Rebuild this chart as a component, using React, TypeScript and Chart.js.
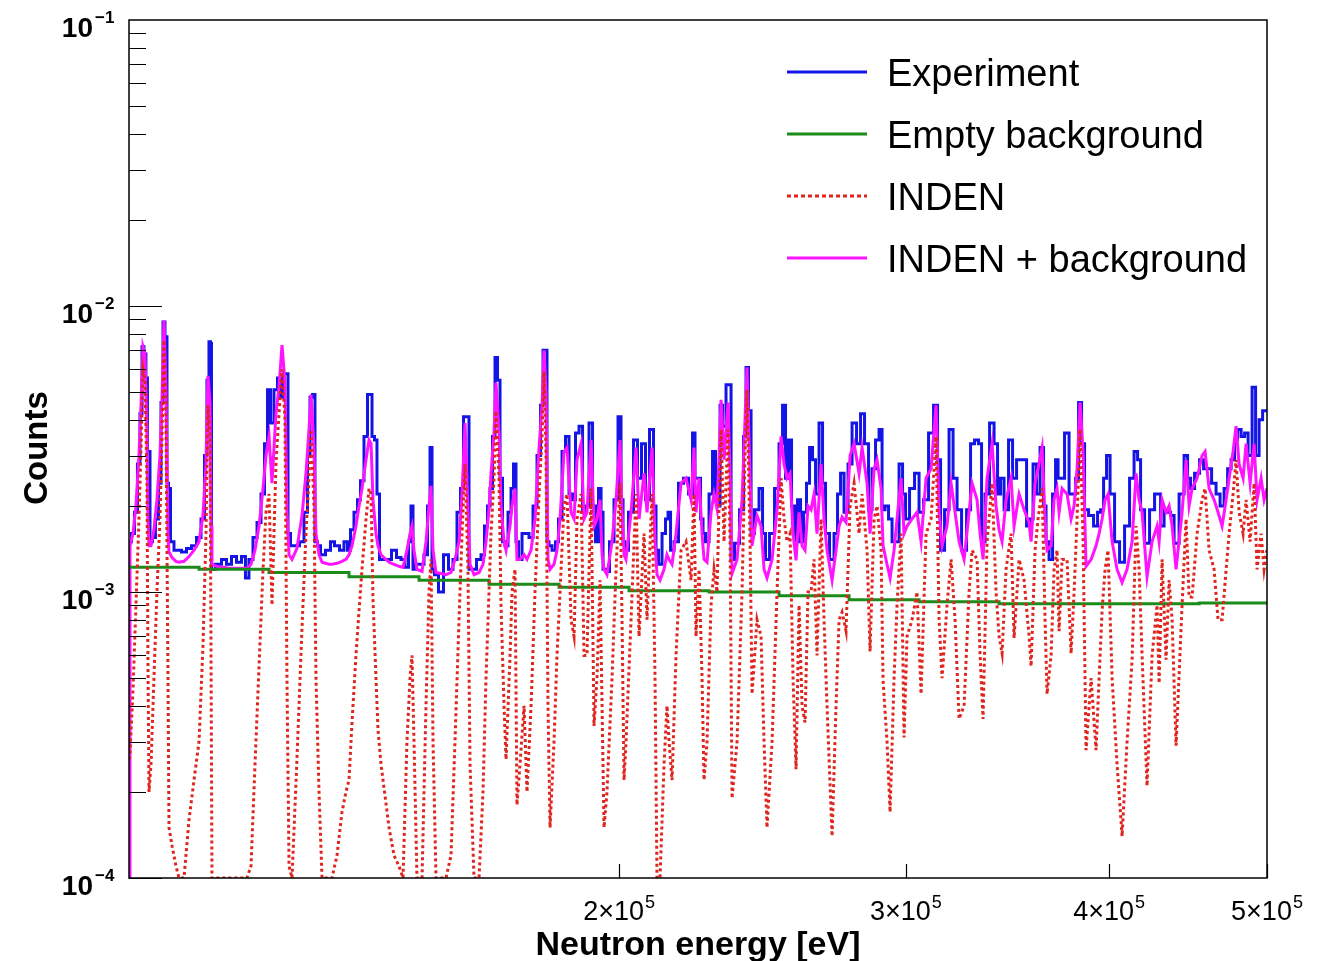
import React, { useEffect, useRef } from "react";
import { Chart, registerables } from "chart.js";
Chart.register(...registerables);

// Neutron energy grid (eV) shared by the spectra
const energies = [
  100000, 100140, 100560, 100990, 101420, 101710, 102000, 102280, 102570, 102710,
  102870, 103160, 103590, 104030, 104480, 104780, 105070, 105370, 105670, 105820,
  106270, 106870, 107330, 108090, 108860, 109630, 110410, 111030, 111500, 111810,
  112140, 112300, 112450, 113580, 114380, 115190, 116010, 116830, 117660, 118150,
  118830, 119510, 120190, 120870, 121380, 121900, 122410, 123100, 123630, 124160,
  124680, 125030, 125400, 125930, 126810, 127720, 128440, 128990, 129360, 129900,
  130270, 130830, 131390, 132690, 133260, 134200, 135150, 135910, 136500, 137080,
  137850, 138450, 139030, 139820, 140420, 140820, 141210, 141810, 142210, 142820,
  144450, 145470, 146500, 147330, 148160, 148800, 149220, 149640, 150270, 151350,
  152200, 152850, 153290, 153720, 154370, 155470, 156570, 157680, 158570, 159480,
  160160, 160840, 161510, 161980, 162900, 164060, 164980, 165680, 166390, 166860,
  167570, 168040, 168760, 169240, 169960, 170440, 171410, 171890, 172620, 173100,
  173850, 174840, 175570, 176580, 177570, 178590, 179350, 179850, 180360, 180860,
  181390, 182410, 183180, 183970, 185010, 185790, 186860, 187650, 188440, 189520,
  190320, 191120, 192220, 193030, 193840, 194680, 195230, 195780, 196600, 198010,
  199130, 200260, 200830, 201400, 201960, 203400, 204840, 205720, 207170, 208050,
  209530, 210420, 211010, 211920, 213120, 214010, 214640, 215550, 216760, 218310,
  219850, 221420, 222350, 222980, 223940, 224890, 225520, 226480, 227770, 228730,
  229700, 230370, 231020, 232000, 233300, 233980, 234640, 236300, 237980, 238980,
  239650, 240690, 241370, 243070, 244460, 245500, 246530, 248300, 250050, 251480,
  252540, 253610, 254700, 255780, 256860, 257960, 259060, 260150, 261250, 262380,
  263490, 264600, 266120, 267240, 268370, 270290, 271810, 272980, 274140, 275680,
  277260, 278830, 280810, 282000, 283990, 285210, 286830, 288040, 289690, 290500,
  292140, 293400, 295050, 296300, 298000, 299260, 300520, 302670, 304800, 306550,
  308710, 310920, 313110, 314450, 315790, 318010, 319840, 321640, 323480, 325770,
  328080, 329480, 331800, 333230, 334640, 336540, 338930, 340840, 342300, 343760,
  345690, 348160, 349640, 352130, 354620, 357140, 358150, 360170, 361690, 363770,
  365300, 366330, 368430, 369990, 371550, 372620, 374200, 376840, 379000, 380610,
  382210, 383860, 385480, 387110, 389870, 392620, 394310, 395990, 397660, 399330,
  401630, 404460, 407350, 410220, 413150, 415480, 417260, 419030, 421980, 425000,
  428000, 429240, 431060, 433480, 435350, 437200, 439660, 443430, 445930, 447840,
  449740, 452910, 456150, 458070, 460690, 463950, 466560, 469240, 471920, 473910,
  476590, 478600, 480660, 483380, 485420, 488200, 490960, 493030, 495850, 497950, 499900,
];

const experiment = [
  1.5e-3, 1.5e-3, 1.6e-3, 1.9e-3, 2.8e-3, 4.2e-3, 7.2e-3, 6.8e-3, 5.6e-3, 3.1e-3,
  3.1e-3, 1.5e-3, 1.55e-3, 1.8e-3, 2.4e-3, 4.6e-3, 8.8e-3, 7.8e-3, 2.4e-3, 2.3e-3,
  1.5e-3, 1.4e-3, 1.4e-3, 1.38e-3, 1.42e-3, 1.45e-3, 1.55e-3, 1.8e-3, 3.0e-3, 5.5e-3,
  7.5e-3, 7.4e-3, 1.2e-3, 1.25e-3, 1.3e-3, 1.25e-3, 1.33e-3, 1.27e-3, 1.33e-3, 1.12e-3,
  1.3e-3, 1.55e-3, 1.75e-3, 2.2e-3, 3.3e-3, 5.1e-3, 3.9e-3, 5.1e-3, 5.6e-3, 4.8e-3,
  5.8e-3, 5.8e-3, 1.6e-3, 1.45e-3, 1.45e-3, 1.5e-3, 1.9e-3, 3.0e-3, 4.8e-3, 4.9e-3,
  1.5e-3, 1.45e-3, 1.35e-3, 1.4e-3, 1.5e-3, 1.45e-3, 1.4e-3, 1.5e-3, 1.4e-3, 1.65e-3,
  1.9e-3, 2.1e-3, 2.45e-3, 3.5e-3, 4.9e-3, 4.9e-3, 3.5e-3, 3.4e-3, 2.2e-3, 1.3e-3,
  1.3e-3, 1.4e-3, 1.32e-3, 1.3e-3, 1.22e-3, 1.5e-3, 2.0e-3, 1.2e-3, 1.25e-3, 1.25e-3,
  1.35e-3, 2.0e-3, 3.2e-3, 1.2e-3, 1.15e-3, 1.0e-3, 1.35e-3, 1.2e-3, 1.3e-3, 1.9e-3,
  2.3e-3, 4.1e-3, 4.1e-3, 1.2e-3, 1.2e-3, 1.3e-3, 1.35e-3, 1.7e-3, 2.0e-3, 2.3e-3,
  3.5e-3, 6.6e-3, 5.5e-3, 2.5e-3, 1.5e-3, 1.45e-3, 1.9e-3, 2.3e-3, 2.8e-3, 1.5e-3,
  1.3e-3, 1.6e-3, 1.6e-3, 1.55e-3, 2.0e-3, 3.0e-3, 4.5e-3, 7.0e-3, 7.0e-3, 1.5e-3,
  1.45e-3, 1.4e-3, 1.5e-3, 1.8e-3, 3.1e-3, 3.5e-3, 2.2e-3, 2.1e-3, 3.6e-3, 3.8e-3,
  1.9e-3, 2.0e-3, 3.9e-3, 2.0e-3, 1.5e-3, 2.3e-3, 1.9e-3, 1.2e-3, 1.18e-3, 1.5e-3,
  2.1e-3, 4.1e-3, 2.1e-3, 1.5e-3, 1.4e-3, 1.9e-3, 3.4e-3, 2.5e-3, 3.3e-3, 2.1e-3,
  3.7e-3, 2.0e-3, 1.4e-3, 1.25e-3, 1.6e-3, 1.8e-3, 1.9e-3, 1.4e-3, 1.5e-3, 2.4e-3,
  2.5e-3, 2.2e-3, 3.6e-3, 2.5e-3, 2.5e-3, 1.8e-3, 1.6e-3, 1.5e-3, 2.2e-3, 3.1e-3,
  2.2e-3, 2.0e-3, 4.5e-3, 3.8e-3, 5.3e-3, 5.3e-3, 1.3e-3, 1.48e-3, 1.94e-3, 3.5e-3,
  6.1e-3, 4.3e-3, 1.6e-3, 1.94e-3, 2.3e-3, 1.6e-3, 1.3e-3, 1.6e-3, 2.3e-3, 3.3e-3,
  4.5e-3, 2.5e-3, 3.4e-3, 2.0e-3, 1.5e-3, 2.1e-3, 1.5e-3, 1.9e-3, 2.4e-3, 3.2e-3,
  2.9e-3, 2.2e-3, 3.9e-3, 2.4e-3, 1.6e-3, 1.3e-3, 1.6e-3, 2.2e-3, 2.6e-3, 1.9e-3,
  2.8e-3, 3.9e-3, 3.3e-3, 4.2e-3, 3.3e-3, 1.94e-3, 2.7e-3, 3.4e-3, 3.7e-3, 1.94e-3,
  2.0e-3, 1.8e-3, 1.5e-3, 1.5e-3, 2.8e-3, 2.2e-3, 1.8e-3, 2.3e-3, 2.6e-3, 1.9e-3,
  2.1e-3, 3.6e-3, 4.5e-3, 2.9e-3, 1.4e-3, 1.94e-3, 3.7e-3, 2.5e-3, 1.94e-3, 1.4e-3,
  1.94e-3, 3.3e-3, 3.4e-3, 3.3e-3, 1.5e-3, 2.2e-3, 3.9e-3, 3.3e-3, 2.2e-3, 2.5e-3,
  1.94e-3, 3.4e-3, 2.5e-3, 2.9e-3, 2.9e-3, 1.7e-3, 1.8e-3, 2.8e-3, 2.2e-3, 3.2e-3,
  2.0e-3, 1.5e-3, 1.3e-3, 2.2e-3, 2.9e-3, 2.5e-3, 2.5e-3, 3.6e-3, 2.2e-3, 2.2e-3,
  2.5e-3, 4.6e-3, 3.3e-3, 1.94e-3, 1.85e-3, 1.7e-3, 1.9e-3, 1.94e-3, 2.5e-3, 3.0e-3,
  2.2e-3, 1.5e-3, 1.27e-3, 1.7e-3, 2.5e-3, 3.1e-3, 2.9e-3, 1.94e-3, 1.48e-3, 1.94e-3,
  2.2e-3, 2.2e-3, 1.7e-3, 1.94e-3, 1.9e-3, 1.85e-3, 1.48e-3, 2.2e-3, 3.0e-3, 2.5e-3,
  2.3e-3, 2.6e-3, 2.9e-3, 2.7e-3, 2.7e-3, 2.4e-3, 2.2e-3, 2.0e-3, 2.3e-3, 2.7e-3,
  2.9e-3, 3.4e-3, 3.7e-3, 3.5e-3, 3.6e-3, 3.0e-3, 5.2e-3, 3.0e-3, 4.0e-3, 4.3e-3, 4.3e-3,
];

const inden = [
  2.6e-4, 2.7e-4, 4.5e-4, 9e-4, 1.8e-3, 3.2e-3, 6.0e-3, 5.5e-3, 2.5e-3, 6e-4,
  2.0e-4, 2.5e-4, 5e-4, 1.0e-3, 1.8e-3, 3.5e-3, 7.6e-3, 4e-3, 5e-4, 1.5e-4,
  1.3e-4, 1.1e-4, 1e-4, 1e-4, 1.6e-4, 2.2e-4, 3.0e-4, 6.5e-4, 1.6e-3, 4.5e-3,
  3.5e-3, 6e-4, 1e-4, 1e-4, 1e-4, 1e-4, 1e-4, 1e-4, 1e-4, 1e-4,
  1.1e-4, 2.5e-4, 5.5e-4, 1.2e-3, 1.9e-3, 2.2e-3, 9e-4, 2.8e-3, 4.2e-3, 6.0e-3,
  4.0e-3, 5e-4, 1.1e-4, 1e-4, 2.6e-4, 7.5e-4, 1.6e-3, 2.5e-3, 3.7e-3, 2.0e-3,
  5e-4, 2e-4, 1e-4, 1e-4, 1e-4, 1.2e-4, 1.7e-4, 2.0e-4, 2.2e-4, 3.5e-4,
  6e-4, 8.6e-4, 1.2e-3, 1.8e-3, 2.3e-3, 2.2e-3, 9.4e-4, 5e-4, 3.3e-4, 2.5e-4,
  1.5e-4, 1.2e-4, 1.1e-4, 1e-4, 3e-4, 5e-4, 6e-4, 3e-4, 1e-4, 1e-4,
  4e-4, 1.0e-3, 1.3e-3, 3e-4, 1e-4, 1e-4, 1e-4, 1.2e-4, 3e-4, 8e-4,
  1.6e-3, 2.8e-3, 1.2e-3, 2.5e-4, 1e-4, 1e-4, 2e-4, 5e-4, 1.0e-3, 1.6e-3,
  2.5e-3, 4.3e-3, 2.5e-3, 9e-4, 4e-4, 2.6e-4, 6e-4, 1.0e-3, 1.2e-3, 1.8e-4,
  2.5e-4, 4e-4, 2e-4, 4e-4, 1.0e-3, 2.2e-3, 3.5e-3, 5.9e-3, 3.0e-3, 4e-4,
  1.5e-4, 3e-4, 6e-4, 1.0e-3, 2.0e-3, 2.2e-3, 8e-4, 7e-4, 1.8e-3, 2.2e-3,
  6e-4, 6e-4, 2.3e-3, 3.4e-4, 5e-4, 1.1e-3, 4e-4, 1.5e-4, 2e-4, 5e-4,
  1.2e-3, 2.4e-3, 8e-4, 2.2e-4, 3e-4, 8e-4, 2.2e-3, 7e-4, 1.6e-3, 8e-4,
  2.2e-3, 5e-4, 1e-4, 1e-4, 2.5e-4, 4e-4, 3e-4, 2.2e-4, 6e-4, 1.4e-3,
  1.5e-3, 1.1e-3, 2.2e-3, 7e-4, 1.2e-3, 5e-4, 2.2e-4, 3e-4, 9e-4, 1.2e-3,
  1.0e-3, 2.0e-3, 3.7e-3, 1.5e-3, 3.7e-3, 1.5e-3, 1.9e-4, 3e-4, 1.0e-3, 3.0e-3,
  5.1e-3, 1.5e-3, 4.4e-4, 8e-4, 7e-4, 3e-4, 1.5e-4, 3e-4, 1.0e-3, 2.5e-3,
  1.8e-3, 1.5e-3, 1.6e-3, 5e-4, 2.4e-4, 9e-4, 4e-4, 3.5e-4, 1.0e-3, 1.0e-3,
  1.3e-3, 6e-4, 1.8e-3, 8e-4, 4e-4, 1.4e-4, 4e-4, 8e-4, 8.5e-4, 7.3e-4,
  2.0e-3, 2.4e-3, 1.6e-3, 2.2e-3, 1.4e-3, 6.2e-4, 1.8e-3, 2.0e-3, 1.4e-3, 4.9e-4,
  3e-4, 1.7e-4, 5e-4, 9e-4, 1.6e-3, 3.1e-4, 7e-4, 8e-4, 1.0e-3, 4.4e-4,
  1.6e-3, 1.8e-3, 3.5e-3, 8e-4, 5e-4, 9e-4, 1.3e-3, 8e-4, 3.6e-4, 4e-4,
  1.0e-3, 1.4e-3, 1.3e-3, 6e-4, 3.6e-4, 1.5e-3, 2.4e-3, 1.0e-3, 7e-4, 6.1e-4,
  1.2e-3, 1.6e-3, 6.9e-4, 1.3e-3, 1.1e-3, 7e-4, 5.5e-4, 1.4e-3, 1.8e-3, 2.3e-3,
  8e-4, 4.4e-4, 6e-4, 1.2e-3, 1.4e-3, 7.3e-4, 1.3e-3, 1.3e-3, 6.1e-4, 1.0e-3,
  1.8e-3, 3.7e-3, 1.5e-3, 2.8e-4, 5e-4, 2.8e-4, 5e-4, 8.6e-4, 1.2e-3, 1.4e-3,
  5e-4, 2.5e-4, 1.4e-4, 3e-4, 5.8e-4, 1.7e-3, 1.2e-3, 6e-4, 2.1e-4, 6e-4,
  9e-4, 4.8e-4, 1.3e-3, 5.8e-4, 1.1e-3, 8e-4, 2.9e-4, 9e-4, 1.8e-3, 9.6e-4,
  9.6e-4, 1.6e-3, 2.1e-3, 2.3e-3, 1.4e-3, 1.2e-3, 8e-4, 8e-4, 1.2e-3, 1.6e-3,
  2.2e-3, 2.9e-3, 1.9e-3, 1.6e-3, 2.1e-3, 1.5e-3, 2.4e-3, 1.2e-3, 1.6e-3, 1.2e-3, 1.4e-3,
];

const indenPlusBackground = [
  1e-4, 1.45e-3, 1.6e-3, 2.0e-3, 3.0e-3, 4.5e-3, 7.2e-3, 6.8e-3, 3.6e-3, 1.8e-3,
  1.45e-3, 1.45e-3, 1.65e-3, 2.1e-3, 3.0e-3, 4.8e-3, 8.9e-3, 5.0e-3, 1.6e-3, 1.38e-3,
  1.32e-3, 1.28e-3, 1.27e-3, 1.28e-3, 1.33e-3, 1.4e-3, 1.5e-3, 1.85e-3, 2.8e-3, 5.7e-3,
  4.6e-3, 1.7e-3, 1.25e-3, 1.22e-3, 1.22e-3, 1.21e-3, 1.21e-3, 1.21e-3, 1.21e-3, 1.21e-3,
  1.25e-3, 1.4e-3, 1.7e-3, 2.3e-3, 3.0e-3, 3.5e-3, 2.4e-3, 4.2e-3, 5.2e-3, 7.3e-3,
  5.4e-3, 1.9e-3, 1.35e-3, 1.3e-3, 1.42e-3, 1.85e-3, 2.6e-3, 3.7e-3, 4.9e-3, 3.2e-3,
  1.6e-3, 1.35e-3, 1.27e-3, 1.25e-3, 1.25e-3, 1.26e-3, 1.28e-3, 1.3e-3, 1.35e-3, 1.45e-3,
  1.7e-3, 2.0e-3, 2.3e-3, 2.9e-3, 3.4e-3, 3.3e-3, 2.1e-3, 1.6e-3, 1.45e-3, 1.35e-3,
  1.27e-3, 1.25e-3, 1.23e-3, 1.22e-3, 1.4e-3, 1.6e-3, 1.7e-3, 1.4e-3, 1.2e-3, 1.18e-3,
  1.5e-3, 2.0e-3, 2.35e-3, 1.4e-3, 1.17e-3, 1.16e-3, 1.15e-3, 1.17e-3, 1.3e-3, 1.5e-3,
  2.2e-3, 3.9e-3, 1.9e-3, 1.25e-3, 1.15e-3, 1.17e-3, 1.25e-3, 1.5e-3, 1.95e-3, 2.6e-3,
  3.6e-3, 5.4e-3, 3.6e-3, 2.0e-3, 1.5e-3, 1.4e-3, 1.7e-3, 2.0e-3, 2.3e-3, 1.3e-3,
  1.3e-3, 1.35e-3, 1.3e-3, 1.4e-3, 1.8e-3, 3.2e-3, 4.5e-3, 7.0e-3, 5.0e-3, 1.3e-3,
  1.2e-3, 1.25e-3, 1.4e-3, 1.8e-3, 3.1e-3, 3.2e-3, 1.9e-3, 1.8e-3, 2.9e-3, 3.3e-3,
  1.8e-3, 1.9e-3, 3.4e-3, 1.7e-3, 1.8e-3, 2.1e-3, 1.35e-3, 1.2e-3, 1.15e-3, 1.5e-3,
  2.1e-3, 3.4e-3, 1.9e-3, 1.35e-3, 1.3e-3, 1.9e-3, 3.2e-3, 1.8e-3, 2.6e-3, 1.9e-3,
  3.2e-3, 1.5e-3, 1.15e-3, 1.1e-3, 1.2e-3, 1.35e-3, 1.3e-3, 1.25e-3, 1.6e-3, 2.4e-3,
  2.5e-3, 2.1e-3, 3.2e-3, 1.9e-3, 2.5e-3, 1.6e-3, 1.3e-3, 1.27e-3, 1.9e-3, 2.2e-3,
  1.95e-3, 3.0e-3, 4.7e-3, 2.9e-3, 4.6e-3, 2.6e-3, 1.16e-3, 1.3e-3, 2.1e-3, 4.0e-3,
  6.1e-3, 2.5e-3, 1.45e-3, 1.85e-3, 1.7e-3, 1.2e-3, 1.12e-3, 1.3e-3, 1.94e-3, 3.5e-3,
  2.8e-3, 2.5e-3, 2.6e-3, 1.6e-3, 1.29e-3, 1.9e-3, 1.45e-3, 1.4e-3, 2.0e-3, 1.94e-3,
  2.2e-3, 1.6e-3, 2.8e-3, 1.8e-3, 1.4e-3, 1.1e-3, 1.4e-3, 1.7e-3, 1.83e-3, 1.75e-3,
  3.0e-3, 3.3e-3, 2.6e-3, 3.2e-3, 2.4e-3, 1.6e-3, 2.7e-3, 2.9e-3, 2.3e-3, 1.45e-3,
  1.25e-3, 1.12e-3, 1.4e-3, 1.8e-3, 2.5e-3, 1.6e-3, 1.7e-3, 1.8e-3, 1.9e-3, 1.5e-3,
  2.5e-3, 2.7e-3, 4.5e-3, 1.9e-3, 1.45e-3, 1.7e-3, 2.4e-3, 1.9e-3, 1.5e-3, 1.3e-3,
  1.9e-3, 2.4e-3, 2.1e-3, 1.6e-3, 1.3e-3, 2.5e-3, 3.3e-3, 2.0e-3, 1.65e-3, 1.5e-3,
  2.1e-3, 2.5e-3, 1.7e-3, 2.2e-3, 1.94e-3, 1.75e-3, 1.5e-3, 2.4e-3, 2.7e-3, 3.2e-3,
  1.8e-3, 1.4e-3, 1.45e-3, 2.1e-3, 2.3e-3, 1.9e-3, 2.3e-3, 2.2e-3, 1.8e-3, 2.0e-3,
  2.7e-3, 4.6e-3, 3.1e-3, 1.23e-3, 1.3e-3, 1.45e-3, 1.6e-3, 1.8e-3, 2.1e-3, 2.2e-3,
  1.5e-3, 1.2e-3, 1.08e-3, 1.2e-3, 1.5e-3, 2.6e-3, 2.1e-3, 1.9e-3, 1.13e-3, 1.5e-3,
  1.7e-3, 1.5e-3, 2.1e-3, 1.9e-3, 2.0e-3, 1.7e-3, 1.2e-3, 1.9e-3, 2.9e-3, 2.0e-3,
  2.3e-3, 2.5e-3, 3.0e-3, 3.1e-3, 2.3e-3, 2.1e-3, 1.9e-3, 1.7e-3, 2.1e-3, 2.5e-3,
  3.1e-3, 3.8e-3, 2.8e-3, 2.5e-3, 3.3e-3, 2.4e-3, 3.3e-3, 2.1e-3, 2.5e-3, 2.1e-3, 2.3e-3,
];

// Empty-target background (own, coarser energy grid)
const backgroundEnergies = [
  100000, 110410, 121900, 136500, 150710, 166390, 183710, 202830,
  227130, 250770, 276870, 305680, 342300, 394310, 454220, 500000,
];
const background = [
  1.22e-3, 1.2e-3, 1.17e-3, 1.13e-3, 1.1e-3, 1.065e-3, 1.04e-3, 1.01e-3,
  1.0e-3, 9.7e-4, 9.4e-4, 9.25e-4, 9.1e-4, 9.1e-4, 9.15e-4, 9.15e-4,
];

const xRange = [1e5, 5e5];
const yRange = [1e-4, 1e-1];
const xTickValues = [2e5, 3e5, 4e5, 5e5];
const xTickMantissas = ["2", "3", "4", "5"];
const yTickValues = [1e-1, 1e-2, 1e-3, 1e-4];
const yTickExponents = ["\u22121", "\u22122", "\u22123", "\u22124"];
const legendLabels = ["Experiment", "Empty background", "INDEN", "INDEN + background"];
const xTitle = "Neutron energy [eV]";
const yTitle = "Counts";

const COLORS = {
  exp: "#1414e6",
  bg: "#1a8c1a",
  inden: "#e0251f",
  sum: "#ff14ff",
};
const FONT = '"Liberation Sans", Arial, Helvetica, sans-serif';

const W = 1331;
const H = 961;

const decorPlugin = {
  id: "rootDecor",
  beforeDraw(chart: any) {
    const ctx = chart.ctx;
    ctx.save();
    ctx.fillStyle = "#ffffff";
    ctx.fillRect(0, 0, chart.width, chart.height);
    ctx.restore();
  },
  afterDraw(chart: any) {
    const ctx = chart.ctx as CanvasRenderingContext2D;
    const a = chart.chartArea;
    const xs = chart.scales.x;
    const ys = chart.scales.y;
    ctx.save();
    // frame
    ctx.strokeStyle = "#000";
    ctx.lineWidth = 1.5;
    ctx.strokeRect(a.left, a.top, a.right - a.left, a.bottom - a.top);

    // y ticks (log, inside)
    ctx.lineWidth = 1.2;
    ctx.beginPath();
    for (let d = -4; d <= -2; d++) {
      for (let m = 1; m <= 9; m++) {
        const v = m * Math.pow(10, d);
        const py = Math.round(ys.getPixelForValue(v)) + 0.5;
        const len = m === 1 ? 33 : 17;
        ctx.moveTo(a.left, py);
        ctx.lineTo(a.left + len, py);
      }
    }
    ctx.stroke();

    // x ticks
    ctx.beginPath();
    xTickValues.forEach((v) => {
      const px = Math.round(xs.getPixelForValue(v)) + 0.5;
      ctx.moveTo(px, a.bottom);
      ctx.lineTo(px, a.bottom - 14);
    });
    ctx.stroke();

    ctx.fillStyle = "#000";
    ctx.textBaseline = "alphabetic";

    // y tick labels 10^-n
    yTickValues.forEach((v, i) => {
      const py = ys.getPixelForValue(v);
      ctx.font = `bold 28px ${FONT}`;
      ctx.textAlign = "right";
      ctx.fillText("10", a.left - 36, py + 17);
      ctx.font = `bold 17px ${FONT}`;
      ctx.textAlign = "left";
      ctx.fillText(yTickExponents[i], a.left - 34, py + 3);
    });

    // x tick labels m x 10^5
    xTickValues.forEach((v, i) => {
      const px = xs.getPixelForValue(v);
      const base = xTickMantissas[i] + "\u00d710";
      ctx.font = `27px ${FONT}`;
      const bw = ctx.measureText(base).width;
      ctx.font = `18px ${FONT}`;
      const ew = ctx.measureText("5").width;
      const total = bw + 1 + ew;
      const x0 = px - total / 2;
      ctx.textAlign = "left";
      ctx.font = `27px ${FONT}`;
      ctx.fillText(base, x0, a.bottom + 42);
      ctx.font = `18px ${FONT}`;
      ctx.fillText("5", x0 + bw + 1, a.bottom + 30);
    });

    // axis titles
    ctx.font = `bold 34px ${FONT}`;
    ctx.textAlign = "center";
    ctx.fillText(xTitle, (a.left + a.right) / 2, a.bottom + 77);
    ctx.save();
    ctx.translate(47, 448);
    ctx.rotate(-Math.PI / 2);
    ctx.font = `bold 33px ${FONT}`;
    ctx.fillText(yTitle, 0, 0);
    ctx.restore();

    // legend
    const legendColors = [COLORS.exp, COLORS.bg, COLORS.inden, COLORS.sum];
    const lx0 = 787;
    const lx1 = 867;
    const ly0 = 72;
    const dy = 62;
    legendLabels.forEach((label, i) => {
      const yy = ly0 + i * dy;
      ctx.save();
      ctx.strokeStyle = legendColors[i];
      ctx.lineWidth = 3;
      if (i === 2) ctx.setLineDash([4, 3]);
      ctx.beginPath();
      ctx.moveTo(lx0, yy);
      ctx.lineTo(lx1, yy);
      ctx.stroke();
      ctx.restore();
      ctx.font = `38px ${FONT}`;
      ctx.textAlign = "left";
      ctx.fillStyle = "#000";
      ctx.fillText(label, 887, yy + 14);
    });

    ctx.restore();
  },
};

export default function App() {
  const ref = useRef<HTMLCanvasElement | null>(null);
  useEffect(() => {
    const canvas = ref.current;
    if (!canvas) return;
    const pts = (xs: number[], ys: number[]) => xs.map((x, i) => ({ x, y: ys[i] }));
    const chart = new Chart(canvas, {
      type: "line",
      data: {
        datasets: [
          {
            label: legendLabels[0],
            data: pts(energies, experiment),
            borderColor: COLORS.exp,
            borderWidth: 3,
            pointRadius: 0,
            stepped: "middle",
            fill: false,
            order: 4,
          },
          {
            label: legendLabels[3],
            data: pts(energies, indenPlusBackground),
            borderColor: COLORS.sum,
            borderWidth: 3,
            pointRadius: 0,
            tension: 0,
            fill: false,
            order: 3,
          },
          {
            label: legendLabels[1],
            data: pts(backgroundEnergies, background),
            borderColor: COLORS.bg,
            borderWidth: 3,
            pointRadius: 0,
            stepped: "before",
            fill: false,
            order: 2,
          },
          {
            label: legendLabels[2],
            data: pts(energies, inden),
            borderColor: COLORS.inden,
            borderWidth: 3,
            borderDash: [3, 3],
            pointRadius: 0,
            tension: 0,
            fill: false,
            order: 1,
          },
        ] as any,
      },
      options: {
        animation: false,
        responsive: false,
        events: [],
        layout: { padding: { left: 129, right: W - 1267, top: 20, bottom: H - 878 } },
        plugins: { legend: { display: false }, tooltip: { enabled: false }, title: { display: false } },
        scales: {
          x: { type: "logarithmic", min: xRange[0], max: xRange[1], display: false },
          y: { type: "logarithmic", min: yRange[0], max: yRange[1], display: false },
        },
      } as any,
      plugins: [decorPlugin],
    });
    return () => chart.destroy();
  }, []);
  return (
    <div style={{ position: "fixed", left: 0, top: 0, width: W, height: H, background: "#fff" }}>
      <canvas ref={ref} width={W} height={H} style={{ width: W, height: H, display: "block" }} />
    </div>
  );
}
